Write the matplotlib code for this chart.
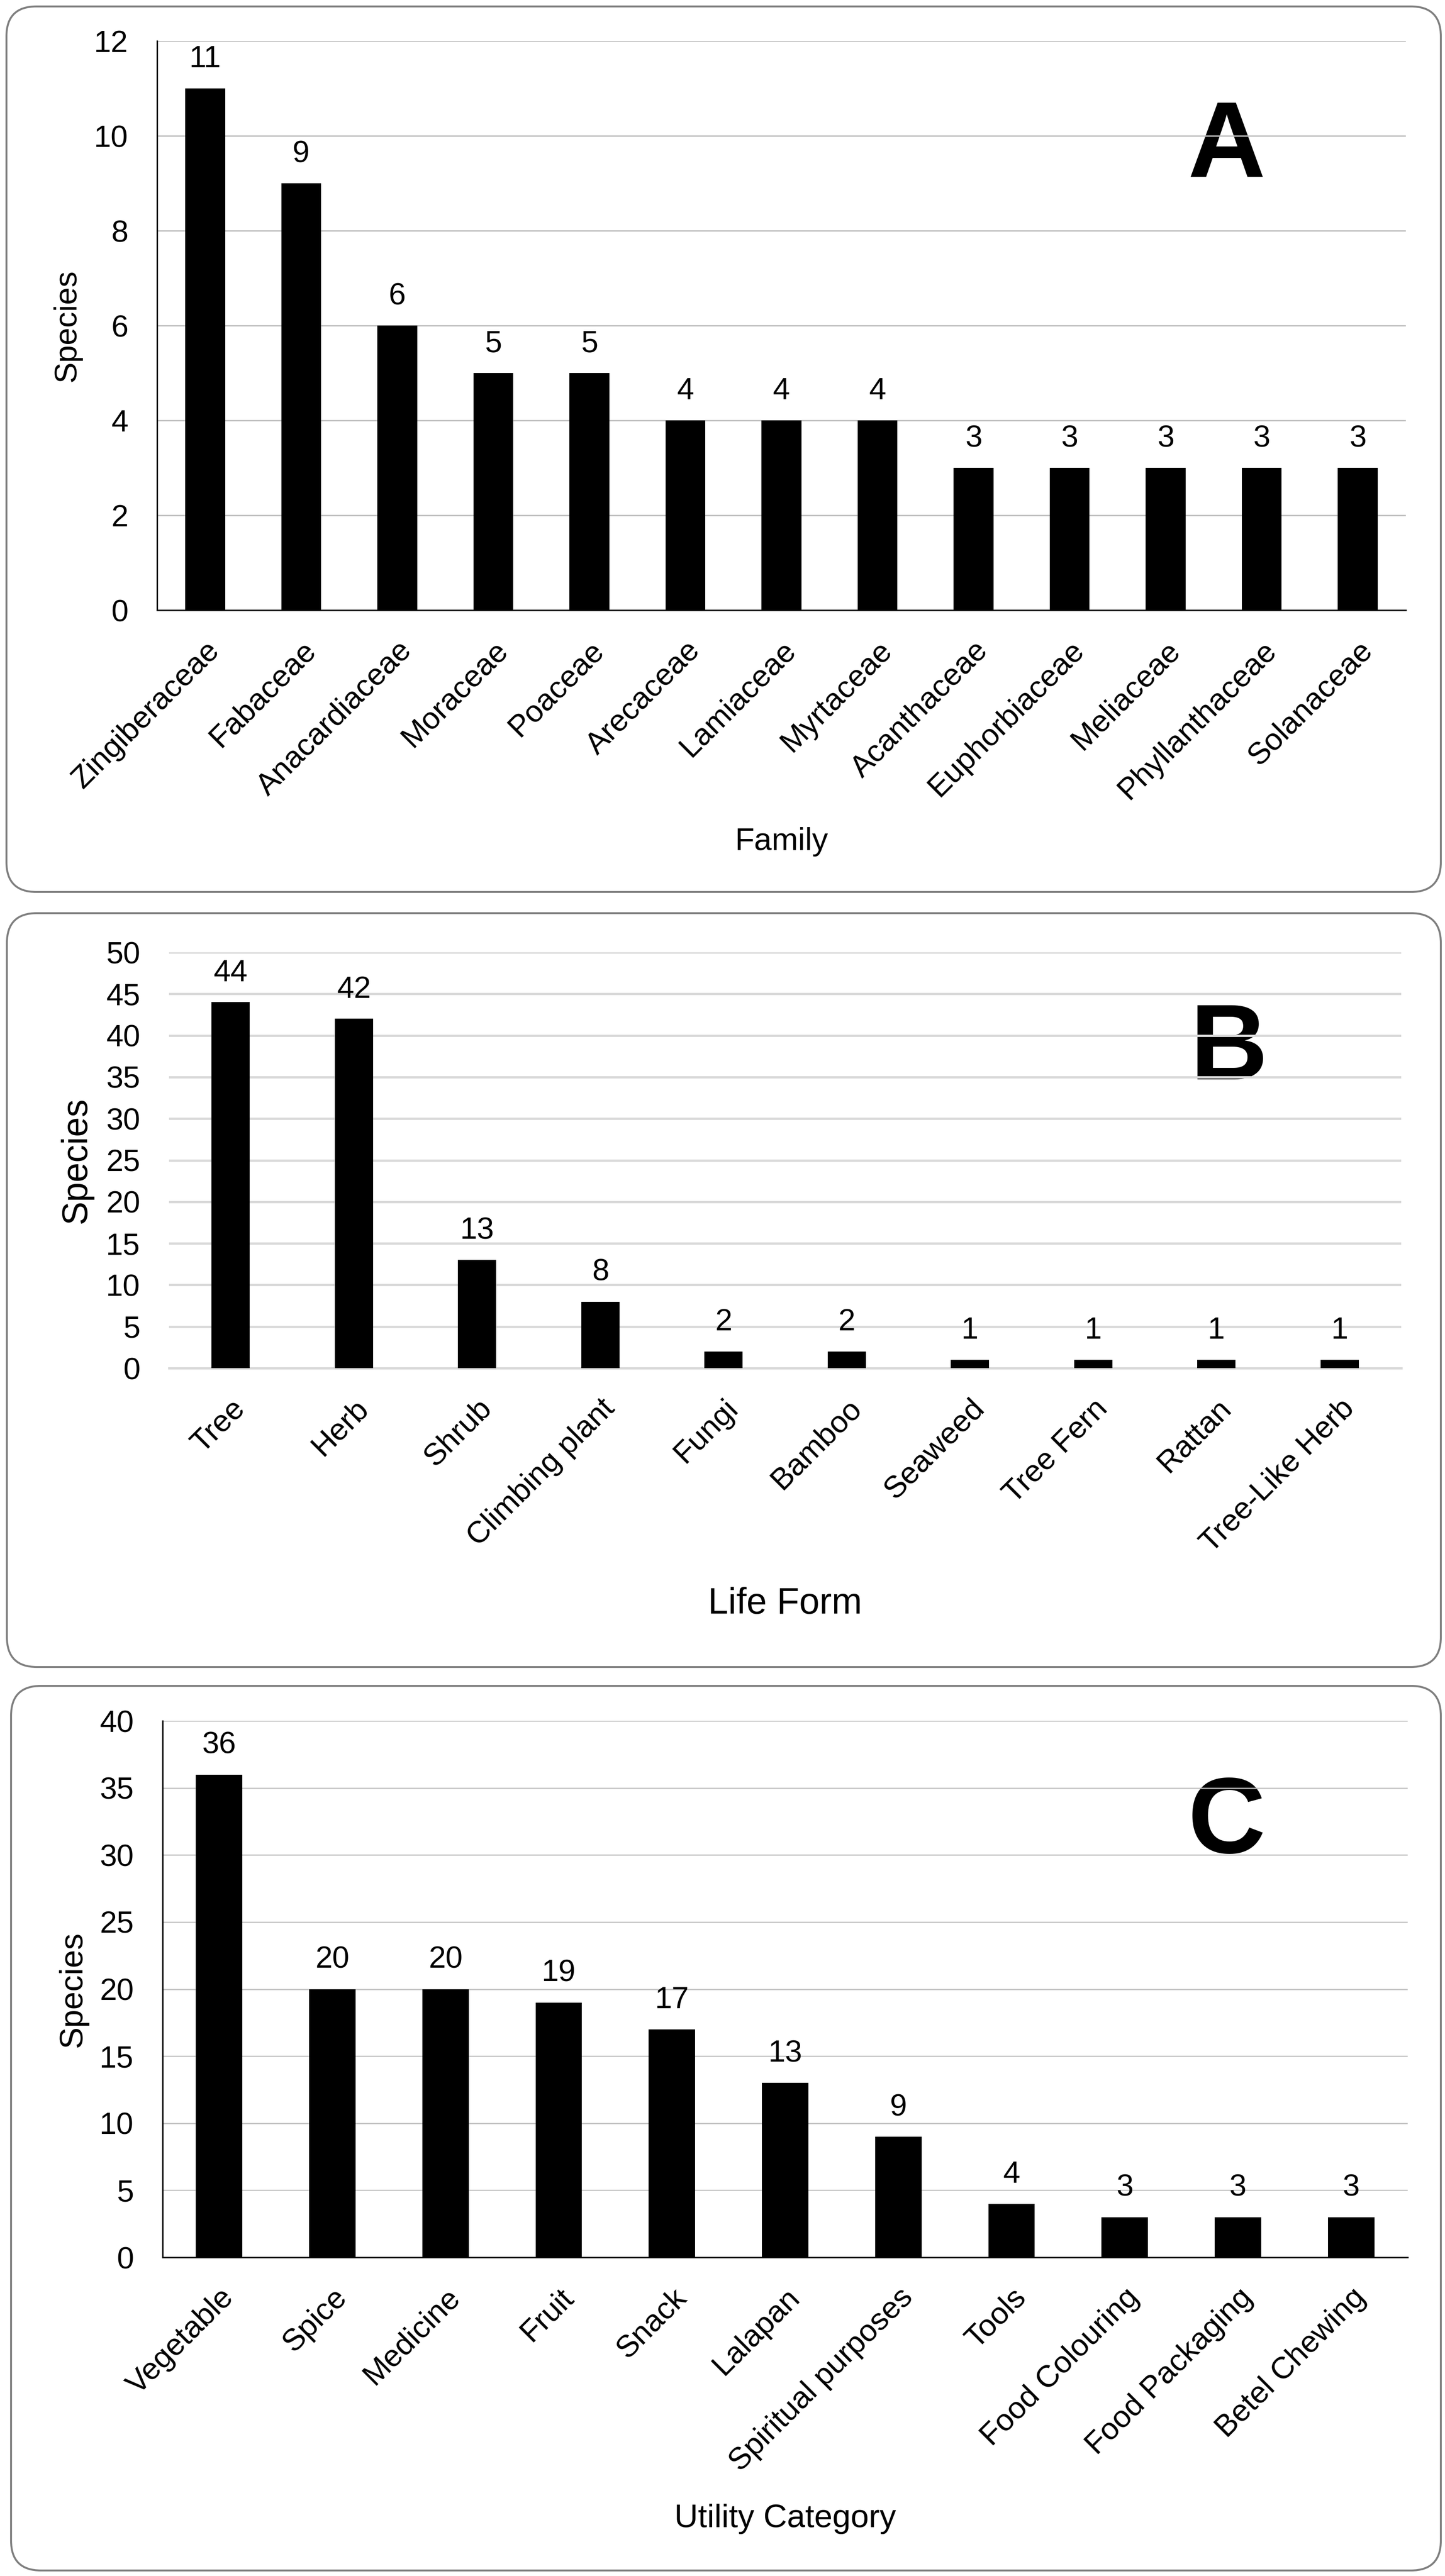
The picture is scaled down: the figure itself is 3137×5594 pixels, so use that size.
import matplotlib.pyplot as plt
from matplotlib.patches import FancyBboxPatch

plt.rcParams['font.family'] = ['Liberation Sans', 'DejaVu Sans']

W, H = 3137, 5594
DPI = 300

# panel A: families
families = ['Zingiberaceae', 'Fabaceae', 'Anacardiaceae', 'Moraceae', 'Poaceae',
            'Arecaceae', 'Lamiaceae', 'Myrtaceae', 'Acanthaceae', 'Euphorbiaceae',
            'Meliaceae', 'Phyllanthaceae', 'Solanaceae']
family_species = [11, 9, 6, 5, 5, 4, 4, 4, 3, 3, 3, 3, 3]

# panel B: life forms
life_forms = ['Tree', 'Herb', 'Shrub', 'Climbing plant', 'Fungi', 'Bamboo',
              'Seaweed', 'Tree Fern', 'Rattan', 'Tree-Like Herb']
life_form_species = [44, 42, 13, 8, 2, 2, 1, 1, 1, 1]

# panel C: utility categories
utilities = ['Vegetable', 'Spice', 'Medicine', 'Fruit', 'Snack', 'Lalapan',
             'Spiritual purposes', 'Tools', 'Food Colouring', 'Food Packaging',
             'Betel Chewing']
utility_species = [36, 20, 20, 19, 17, 13, 9, 4, 3, 3, 3]

panels = [
    dict(letter='A', cats=families, vals=family_species, ymax=12, step=2,
         xlabel='Family', axes=(341, 89, 3052, 1325), box=(14, 14, 3128, 1937),
         width=0.415, grid='#bfbfbf', grid_lw=0.7, left_spine=True,
         bottom_color='black', bottom_lw=0.75, ylab_x=146, lab_fs=16.5,
         xlab_y=1846, xlab_fs=16.5, letter_x=2662, letter_y=384),
    dict(letter='B', cats=life_forms, vals=life_form_species, ymax=50, step=5,
         xlabel='Life Form', axes=(367, 2068, 3042, 2971), box=(15, 1983, 3128, 3620),
         width=0.31, grid='#d9d9d9', grid_lw=1.2, left_spine=False,
         bottom_color='#d9d9d9', bottom_lw=1.2, ylab_x=166, lab_fs=18.5,
         xlab_y=3504, xlab_fs=19, letter_x=2668, letter_y=2344),
    dict(letter='C', cats=utilities, vals=utility_species, ymax=40, step=5,
         xlabel='Utility Category', axes=(353, 3737, 3056, 4902), box=(24, 3661, 3128, 5582),
         width=0.41, grid='#c0c0c0', grid_lw=0.6, left_spine=True,
         bottom_color='black', bottom_lw=0.75, ylab_x=159, lab_fs=17,
         xlab_y=5488, xlab_fs=17, letter_x=2663, letter_y=4024),
]

fig = plt.figure(figsize=(W / DPI, H / DPI), dpi=DPI)

# background axes in pixel coordinates for frames and free text
bg = fig.add_axes([0, 0, 1, 1], zorder=0)
bg.set_xlim(0, W)
bg.set_ylim(H, 0)
bg.axis('off')

for p in panels:
    x0, y0, x1, y1 = p['box']
    bg.add_patch(FancyBboxPatch((x0, y0), x1 - x0, y1 - y0,
                                boxstyle='round,pad=0,rounding_size=65',
                                facecolor='white', edgecolor='#7f7f7f', lw=1.0))

    l, t, r, b = p['axes']
    ax = fig.add_axes([l / W, 1 - b / H, (r - l) / W, (b - t) / H], zorder=1)
    ax.set_facecolor('none')
    x = list(range(len(p['cats'])))
    ax.bar(x, p['vals'], width=p['width'], color='black', zorder=3)
    for xi, v in zip(x, p['vals']):
        ax.annotate(str(v), (xi, v), xytext=(0, 11), textcoords='offset points',
                    ha='center', va='baseline', fontsize=16)

    ax.set_xlim(-0.5, len(x) - 0.5)
    ax.set_ylim(0, p['ymax'])
    ax.set_yticks(range(0, p['ymax'] + 1, p['step']))
    ax.set_xticks(x)
    ax.set_xticklabels(p['cats'], rotation=45, ha='right', va='top',
                       rotation_mode='anchor')
    ax.tick_params(axis='x', length=0, pad=13.5, labelsize=16)
    ax.tick_params(axis='y', length=0, pad=15, labelsize=16)

    ax.yaxis.grid(True, color=p['grid'], lw=p['grid_lw'])
    ax.set_axisbelow(True)
    for s in ['top', 'right']:
        ax.spines[s].set_visible(False)
    ax.spines['left'].set_visible(p['left_spine'])
    ax.spines['left'].set_color('black')
    ax.spines['left'].set_linewidth(0.75)
    ax.spines['bottom'].set_color(p['bottom_color'])
    ax.spines['bottom'].set_linewidth(p['bottom_lw'])

    bg.text(p['ylab_x'], (t + b) / 2, 'Species', rotation=90, ha='center',
            va='center', fontsize=p['lab_fs'])
    bg.text((l + r) / 2, p['xlab_y'], p['xlabel'], ha='center', va='baseline',
            fontsize=p['xlab_fs'])
    bg.text(p['letter_x'], p['letter_y'], p['letter'], ha='center', va='baseline',
            fontsize=56, fontweight='bold')

fig.savefig('out.png', dpi=DPI)
